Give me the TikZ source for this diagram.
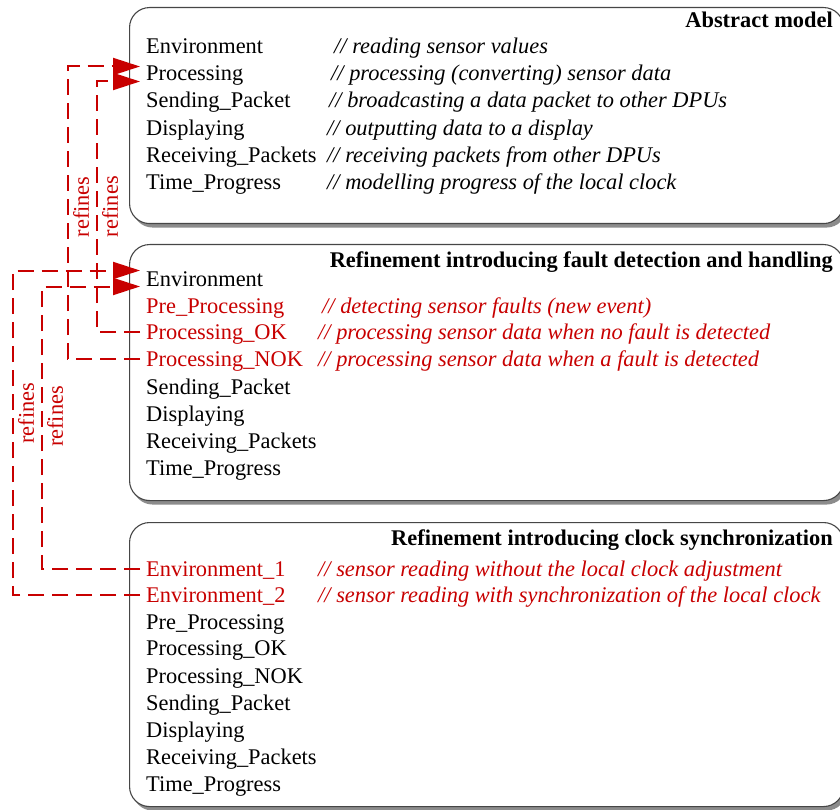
\documentclass[tikz,border=0pt]{standalone}
\usepackage{fontspec}
\setmainfont{Liberation Serif}
\usetikzlibrary{arrows.meta,shadows,calc}
\definecolor{refred}{RGB}{200,0,0}
\definecolor{frame}{RGB}{70,70,70}
\begin{document}
\fontsize{22.4pt}{27pt}\selectfont
\begin{tikzpicture}[x=1pt,y=-1pt,
  panel/.style={draw=frame, line width=1.1pt, fill=white, rounded corners=20pt,
    anchor=north west, minimum width=714pt,
    drop shadow={shadow xshift=3pt, shadow yshift=-4pt, fill=black!45, opacity=1}},
  ev/.style={anchor=base west, inner xsep=6pt, inner ysep=0pt, text height=16pt, text depth=2pt},
  newev/.style={ev, text=refred},
  cmt/.style={anchor=base west, inner sep=0pt, font=\itshape},
  newcmt/.style={cmt, text=refred},
  title/.style={anchor=base east, inner sep=0pt, font=\bfseries},
  refine/.style={draw=refred, line width=2pt, dash pattern=on 16pt off 8pt,
    -{Triangle[length=27pt,width=17pt,fill=refred]}},
  lbl/.style={rotate=90, anchor=north, text=refred, inner sep=4pt, solid}]
\useasboundingbox (0,0) rectangle (840,810);

% panels
\node[panel, minimum height=216pt] (box-a) at (129,7) {};
\node[panel, minimum height=256pt] (box-b) at (129,244) {};
\node[panel, minimum height=284pt] (box-c) at (129,522) {};

% abstract model
\node[title] (t-a) at (833,28) {Abstract model};
\node[ev] (a-env)  at (140,54)  {Environment};
\node[ev] (a-proc) at (140,81)  {Processing};
\node[ev] (a-send) at (140,108) {Sending\_Packet};
\node[ev] (a-disp) at (140,136) {Displaying};
\node[ev] (a-recv) at (140,163) {Receiving\_Packets};
\node[ev] (a-time) at (140,190) {Time\_Progress};
\node[cmt] (a-env-c)  at (334,54)  {// reading sensor values};
\node[cmt] (a-proc-c) at (331,81)  {// processing (converting) sensor data};
\node[cmt] (a-send-c) at (329,108) {// broadcasting a data packet to other DPUs};
\node[cmt] (a-disp-c) at (327,136) {// outputting data to a display};
\node[cmt] (a-recv-c) at (327,163) {// receiving packets from other DPUs};
\node[cmt] (a-time-c) at (327,190) {// modelling progress of the local clock};

% first refinement
\node[title] (t-b) at (833,267) {Refinement introducing fault detection and handling};
\node[ev]    (b-env)  at (140,286) {Environment};
\node[newev] (b-pre)  at (140,313) {Pre\_Processing};
\node[newev] (b-ok)   at (140,339) {Processing\_OK};
\node[newev] (b-nok)  at (140,366) {Processing\_NOK};
\node[ev]    (b-send) at (140,394) {Sending\_Packet};
\node[ev]    (b-disp) at (140,421) {Displaying};
\node[ev]    (b-recv) at (140,448) {Receiving\_Packets};
\node[ev]    (b-time) at (140,475) {Time\_Progress};
\node[newcmt] (b-pre-c) at (322,313) {// detecting sensor faults (new event)};
\node[newcmt] (b-ok-c)  at (318,339) {// processing sensor data when no fault is detected};
\node[newcmt] (b-nok-c) at (318,366) {// processing sensor data when a fault is detected};

% second refinement
\node[title] (t-c) at (833,545) {Refinement introducing clock synchronization};
\node[newev] (c-env1) at (140,576) {Environment\_1};
\node[newev] (c-env2) at (140,602) {Environment\_2};
\node[ev]    (c-pre)  at (140,629) {Pre\_Processing};
\node[ev]    (c-ok)   at (140,655) {Processing\_OK};
\node[ev]    (c-nok)  at (140,683) {Processing\_NOK};
\node[ev]    (c-send) at (140,710) {Sending\_Packet};
\node[ev]    (c-disp) at (140,737) {Displaying};
\node[ev]    (c-recv) at (140,764) {Receiving\_Packets};
\node[ev]    (c-time) at (140,791) {Time\_Progress};
\node[newcmt] (c-env1-c) at (318,576) {// sensor reading without the local clock adjustment};
\node[newcmt] (c-env2-c) at (318,602) {// sensor reading with synchronization of the local clock};

% refinement links
\draw[refine] (b-nok.west) -- ++(-72,0)
  |- node[lbl,pos=0.26] {refines} ($(a-proc.west)+(0,-7.5)$);
\draw[refine] (b-ok.west) -- ++(-43,0)
  |- node[lbl,pos=0.25] {refines} ($(a-proc.west)+(0,7.5)$);
\draw[refine] (c-env2.west) -- ++(-127,0)
  |- node[lbl,pos=0.28] {refines} ($(b-env.west)+(0,-8.5)$);
\draw[refine] (c-env1.west) -- ++(-98,0)
  |- node[lbl,pos=0.27] {refines} ($(b-env.west)+(0,7.5)$);
\end{tikzpicture}
\end{document}
